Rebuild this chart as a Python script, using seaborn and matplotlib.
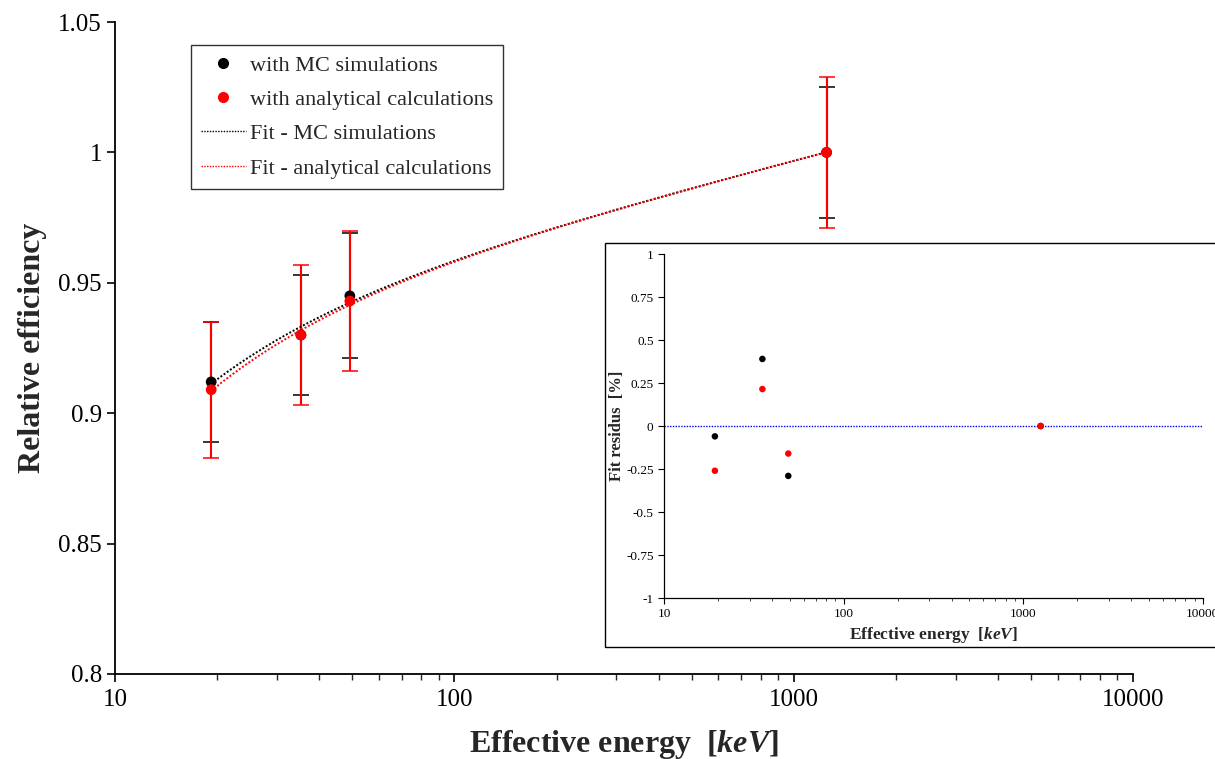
import numpy as np
import pandas as pd
import matplotlib
matplotlib.use("Agg")
import matplotlib.pyplot as plt
import seaborn as sns
from matplotlib.lines import Line2D
from matplotlib.patches import Rectangle
from matplotlib.ticker import FuncFormatter, LogLocator, NullFormatter

# values
energy = [19.2, 35.3, 49.2, 1250.0]
eff_mc = [0.912, 0.930, 0.945, 1.000]
eff_an = [0.909, 0.930, 0.943, 1.000]
err_mc = [0.023, 0.023, 0.024, 0.025]
err_an = [0.026, 0.027, 0.027, 0.029]
res_mc = [-0.06, 0.39, -0.29, 0.0]
res_an = [-0.26, 0.215, -0.16, 0.0]

sns.set_style("ticks")
plt.rcParams["font.family"] = ["Liberation Serif", "DejaVu Serif"]
plt.rcParams["mathtext.fontset"] = "custom"
plt.rcParams["mathtext.it"] = "Liberation Serif:italic:bold"
plt.rcParams["mathtext.rm"] = "Liberation Serif:bold"

pts = pd.DataFrame({
    "energy": energy * 2,
    "eff": eff_mc + eff_an,
    "err": err_mc + err_an,
    "res": res_mc + res_an,
    "set": ["MC"] * 4 + ["analytical"] * 4,
})
palette = {"MC": "black", "analytical": "red"}


def fit_curve(x, y):
    # least squares fit  eff = a + b*log10(E) + c/E, drawn between first and last point
    x = np.asarray(x)
    A = np.column_stack([np.ones_like(x), np.log10(x), 1.0 / x])
    coef, *_ = np.linalg.lstsq(A, np.asarray(y), rcond=None)
    xs = np.logspace(np.log10(x.min()), np.log10(x.max()), 200)
    return xs, coef[0] + coef[1] * np.log10(xs) + coef[2] / xs


fig = plt.figure(figsize=(12.15, 7.59), dpi=100)
ax = fig.add_axes([0.0947, 0.112, 0.8378, 0.859])

for name, ys, es in [("MC", eff_mc, err_mc), ("analytical", eff_an, err_an)]:
    ax.errorbar(energy, ys, yerr=es, fmt="none", ecolor=palette[name],
                elinewidth=1.5, capsize=6, capthick=1.1, zorder=2)
    xs, ys_fit = fit_curve(energy, ys)
    fit_df = pd.DataFrame({"energy": xs, "eff": ys_fit})
    sns.lineplot(data=fit_df, x="energy", y="eff", ax=ax, color=palette[name],
                 linestyle=(0, (1, 1)), linewidth=1.4, zorder=3)

sns.scatterplot(data=pts, x="energy", y="eff", hue="set", palette=palette,
                s=60, edgecolor="none", ax=ax, legend=False, zorder=4)

ax.set_xscale("log")
ax.set_xlim(10, 10000)
ax.set_ylim(0.8, 1.05)
ax.set_yticks([0.8, 0.85, 0.9, 0.95, 1.0, 1.05])
ax.yaxis.set_major_formatter(FuncFormatter(lambda v, p: f"{v:g}"))
ax.xaxis.set_major_formatter(FuncFormatter(lambda v, p: f"{v:g}"))
ax.xaxis.set_minor_locator(LogLocator(base=10, subs=np.arange(2, 10)))
ax.xaxis.set_minor_formatter(NullFormatter())
ax.tick_params(axis="both", which="major", direction="out", length=6, width=1.2,
               labelsize=18, colors="black")
ax.tick_params(axis="x", which="minor", direction="out", length=4, width=1.0)
ax.tick_params(axis="x", pad=5)
sns.despine(ax=ax)
for sp in ("left", "bottom"):
    ax.spines[sp].set_linewidth(1.3)
    ax.spines[sp].set_color("black")
ax.set_xlabel("Effective energy  [$keV$]", fontsize=23, fontweight="bold", labelpad=12)
ax.set_ylabel("Relative efficiency", fontsize=23, fontweight="bold", labelpad=8)

handles = [
    Line2D([], [], marker="o", color="black", linestyle="none", markersize=7),
    Line2D([], [], marker="o", color="red", linestyle="none", markersize=7),
    Line2D([], [], color="black", linestyle=(0, (1, 1)), linewidth=1.0),
    Line2D([], [], color="red", linestyle=(0, (1, 1)), linewidth=1.0),
]
labels = ["with MC simulations", "with analytical calculations",
          "Fit - MC simulations", "Fit - analytical calculations"]
leg = ax.legend(handles, labels, loc="upper left", bbox_to_anchor=(0.0747, 0.9647),
                borderaxespad=0, fontsize=16, frameon=True, fancybox=False,
                edgecolor="black", handlelength=2.0, handletextpad=0.2,
                borderpad=0.45, labelspacing=0.62)
leg.get_frame().set_linewidth(1.0)

# inset box with fit residuals
fig.patches.append(Rectangle((0.498, 0.1476), 0.52, 0.5325, transform=fig.transFigure,
                             facecolor="white", edgecolor="black", linewidth=1.0,
                             zorder=5))
axin = fig.add_axes([0.5465, 0.2121, 0.4435, 0.4532], zorder=6)
axin.patch.set_alpha(0)
axin.axhline(0, color="blue", linestyle=(0, (1, 1)), linewidth=1.0, zorder=1)
sns.scatterplot(data=pts, x="energy", y="res", hue="set", palette=palette,
                s=22, edgecolor="none", ax=axin, legend=False, zorder=3)
axin.set_xscale("log")
axin.set_xlim(10, 10000)
axin.set_ylim(-1, 1)
axin.set_yticks(np.arange(-1, 1.01, 0.25))
axin.yaxis.set_major_formatter(FuncFormatter(lambda v, p: f"{v:g}"))
axin.xaxis.set_major_formatter(FuncFormatter(lambda v, p: f"{v:g}"))
axin.xaxis.set_minor_locator(LogLocator(base=10, subs=np.arange(2, 10)))
axin.xaxis.set_minor_formatter(NullFormatter())
axin.tick_params(axis="both", which="major", direction="out", length=4, width=0.8,
                 labelsize=9.5, colors="black")
axin.tick_params(axis="x", which="minor", direction="out", length=2.5, width=0.6)
sns.despine(ax=axin)
for sp in ("left", "bottom"):
    axin.spines[sp].set_linewidth(0.9)
    axin.spines[sp].set_color("black")
axin.set_xlabel("Effective energy  [$keV$]", fontsize=12.5, fontweight="bold", labelpad=3)
axin.set_ylabel("Fit residus  [%]", fontsize=12, fontweight="bold", labelpad=1)

fig.savefig("out.png", dpi=100)
